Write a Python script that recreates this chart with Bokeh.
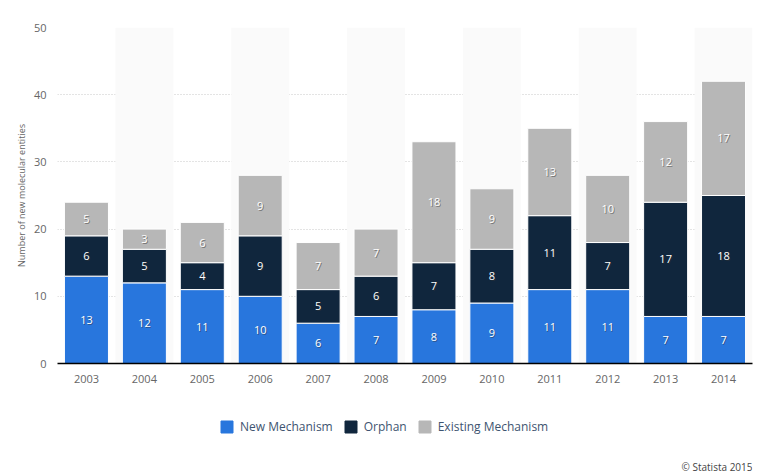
from bokeh.plotting import figure
from bokeh.layouts import column
from bokeh.models import ColumnDataSource, FactorRange, Range1d, Legend, LegendItem, Label
from bokeh.embed import file_html
from bokeh.resources import INLINE
from bokeh.core.properties import value

years = ["2003", "2004", "2005", "2006", "2007", "2008", "2009", "2010", "2011", "2012", "2013", "2014"]
new_mech = [13, 12, 11, 10, 6, 7, 8, 9, 11, 11, 7, 7]
orphan = [6, 5, 4, 9, 5, 6, 7, 8, 11, 7, 17, 18]
existing = [5, 3, 6, 9, 7, 7, 18, 9, 13, 10, 12, 17]
series = ["New Mechanism", "Orphan", "Existing Mechanism"]
colors = ["#2876dd", "#10263d", "#b7b7b7"]

FONT = "Open Sans"

src = ColumnDataSource(dict(years=years, new=new_mech, orphan=orphan, existing=existing))

p = figure(width=764, height=395, x_range=FactorRange(*years, range_padding=0),
           y_range=Range1d(0, 50), output_backend="svg", toolbar_location=None,
           min_border_left=57, min_border_top=27, min_border_right=12, min_border_bottom=32)
p.outline_line_color = None

# alternating bands
band_years = years[1::2]
p.vbar(x=band_years, top=[50] * len(band_years), bottom=0, width=1.0,
       fill_color="#fafafa", line_color=None)

rs = p.vbar_stack(["new", "orphan", "existing"], x="years", width=0.76, source=src,
                  color=colors, line_color="white", line_width=1)

# labels
cum = [0] * len(years)
for key, vals in [("new", new_mech), ("orphan", orphan), ("existing", existing)]:
    mids = [c + v / 2 for c, v in zip(cum, vals)]
    cum = [c + v for c, v in zip(cum, vals)]
    lsrc = ColumnDataSource(dict(x=years, y=mids, t=[str(v) for v in vals]))
    p.text(x="x", y="y", text="t", source=lsrc, text_align="center", text_baseline="middle",
           text_color="#333333", text_alpha=0.5, text_font_size="11px", text_font=value(FONT),
           x_offset=1, y_offset=1)
    p.text(x="x", y="y", text="t", source=lsrc, text_align="center", text_baseline="middle",
           text_color="white", text_font_size="11px", text_font=value(FONT))

p.xgrid.grid_line_color = None
p.ygrid.grid_line_color = "#c8c8c8"
p.ygrid.grid_line_dash = "1 2"
p.ygrid.grid_line_width = 1

p.yaxis.ticker = [0, 10, 20, 30, 40, 50]
p.yaxis.axis_line_color = None
p.yaxis.major_tick_line_color = None
p.yaxis.minor_tick_line_color = None
p.yaxis.major_label_text_color = "#666666"
p.yaxis.major_label_text_font = FONT
p.yaxis.major_label_text_font_size = "11px"
p.yaxis.axis_label = "Number of new molecular entities"
p.yaxis.axis_label_text_font = FONT
p.yaxis.axis_label_text_font_size = "9px"
p.yaxis.axis_label_text_font_style = "normal"
p.yaxis.axis_label_text_color = "#666666"
p.yaxis.axis_label_standoff = 3

p.xaxis.axis_line_color = "#000000"
p.xaxis.axis_line_width = 1.5
p.xaxis.major_tick_line_color = None
p.xaxis.minor_tick_line_color = None
p.xaxis.major_label_text_color = "#666666"
p.xaxis.major_label_text_font = FONT
p.xaxis.major_label_text_font_size = "11px"
p.xaxis.major_label_standoff = 5

# legend / credit strip (frame is aligned with the main plot's frame: 57..752)
q = figure(width=764, height=81, x_range=Range1d(57, 752), y_range=Range1d(0, 81),
           output_backend="svg", toolbar_location=None,
           min_border_left=57, min_border_right=12, min_border_top=0, min_border_bottom=0)
q.axis.visible = False
q.grid.visible = False
q.outline_line_color = None
dummy = []
for c in colors:
    # off-frame swatch, only used to draw the legend glyph
    dummy.append(q.quad(left=[-20], right=[-10], top=[-10], bottom=[-20],
                        fill_color=c, line_color=c))

legend = Legend(items=[LegendItem(label=s, renderers=[r]) for s, r in zip(series, dummy)],
                orientation="horizontal", location=(162, 41), border_line_color=None,
                background_fill_alpha=0,
                label_text_font=FONT, label_text_font_size="12px", label_text_color="#3e5470",
                glyph_width=15, glyph_height=15, spacing=10, label_standoff=6,
                margin=0, padding=0, label_height=15)
q.add_layout(legend, "center")

credit = Label(x=752, y=3, text="© Statista 2015",
               text_align="right", text_baseline="bottom", text_font=FONT,
               text_font_size="10px", text_color="#444444")
q.add_layout(credit)

open("out.html", "w").write(file_html(column(p, q, spacing=0), INLINE))
